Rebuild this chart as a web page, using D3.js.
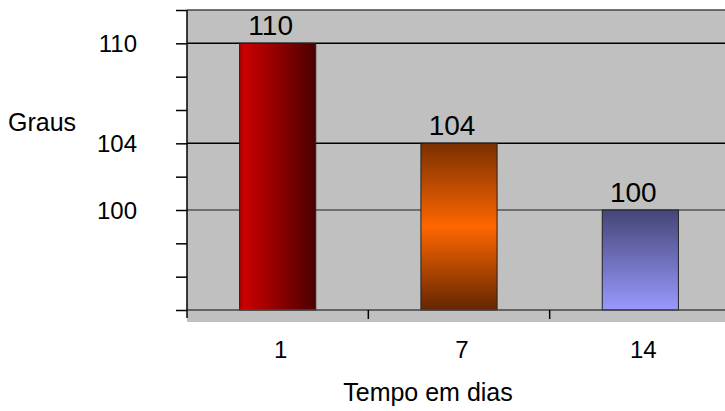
<!DOCTYPE html>
<html>
<head>
<meta charset="utf-8">
<script src="https://cdn.jsdelivr.net/npm/d3@7"></script>
<style>
  body { margin: 0; background: #fff; }
  text { font-family: "Liberation Sans", Arial, sans-serif; fill: #000; }
</style>
</head>
<body>
<div id="chart"></div>
<script>
// data
const days = ["1", "7", "14"]
const degrees = [110, 104, 100]
const labelledTicks = [100, 104, 110]
const gridValues = [100, 104, 110]

const width = 725, height = 411
const plot = { left: 187, top: 10, right: 731, bottom: 310, floor: 12 }

const svg = d3.select("#chart")
    .append("svg")
    .attr("width", width)
    .attr("height", height)

const defs = svg.append("defs")

// bar fills, one gradient per bar
const g1 = defs.append("linearGradient").attr("id", "grad0")
    .attr("x1", "0%").attr("x2", "100%").attr("y1", "0%").attr("y2", "0%")
g1.append("stop").attr("offset", "0%").attr("stop-color", "#a80000")
g1.append("stop").attr("offset", "6%").attr("stop-color", "#cc0000")
g1.append("stop").attr("offset", "100%").attr("stop-color", "#4a0000")

const g2 = defs.append("linearGradient").attr("id", "grad1")
    .attr("x1", "0%").attr("x2", "0%").attr("y1", "0%").attr("y2", "100%")
g2.append("stop").attr("offset", "0%").attr("stop-color", "#7a3000")
g2.append("stop").attr("offset", "50%").attr("stop-color", "#ff6600")
g2.append("stop").attr("offset", "100%").attr("stop-color", "#642600")

const g3 = defs.append("linearGradient").attr("id", "grad2")
    .attr("x1", "0%").attr("x2", "0%").attr("y1", "0%").attr("y2", "100%")
g3.append("stop").attr("offset", "0%").attr("stop-color", "#454578")
g3.append("stop").attr("offset", "100%").attr("stop-color", "#9999ff")

const x = d3.scaleBand()
    .domain(days)
    .range([plot.left, plot.right])
    .paddingInner(0.58)
    .paddingOuter(0.29)

const y = d3.scaleLinear()
    .domain([94, 112])
    .range([plot.bottom, plot.top])

// plot area
svg.append("rect")
    .attr("x", plot.left)
    .attr("y", plot.top)
    .attr("width", plot.right - plot.left)
    .attr("height", plot.bottom - plot.top + plot.floor)
    .attr("fill", "#c0c0c0")

svg.append("line")
    .attr("x1", plot.left).attr("x2", plot.right)
    .attr("y1", plot.top).attr("y2", plot.top)
    .attr("stroke", "#444")
    .attr("stroke-width", 1.5)

svg.append("g")
    .selectAll("line")
    .data(gridValues)
    .enter()
    .append("line")
    .attr("x1", plot.left).attr("x2", plot.right)
    .attr("y1", d => y(d)).attr("y2", d => y(d))
    .attr("stroke", d => d == 100 ? "#555" : "#000")
    .attr("stroke-width", 1.5)

// bars
svg.append("g")
    .selectAll("rect")
    .data(degrees)
    .enter()
    .append("rect")
    .attr("x", (d, i) => x(days[i]))
    .attr("y", d => y(d))
    .attr("width", x.bandwidth())
    .attr("height", d => plot.bottom - y(d))
    .attr("fill", (d, i) => `url(#grad${i})`)
    .attr("stroke", "#222")
    .attr("stroke-width", 1)

// baseline
svg.append("line")
    .attr("x1", plot.left).attr("x2", plot.right)
    .attr("y1", plot.bottom).attr("y2", plot.bottom)
    .attr("stroke", "#444")
    .attr("stroke-width", 1.5)

// value labels
svg.append("g")
    .selectAll("text")
    .data(degrees)
    .enter()
    .append("text")
    .attr("x", (d, i) => x(days[i]) + x.bandwidth() / 2 - 7)
    .attr("y", d => y(d) - 8)
    .attr("text-anchor", "middle")
    .attr("font-size", "28px")
    .text(d => d)

// y axis: ticks every 2, labels only at some
const yAxis = d3.axisLeft(y)
    .tickValues(d3.range(94, 113, 2))
    .tickSize(11)
    .tickFormat(d => labelledTicks.includes(d) ? d : "")

const ya = svg.append("g")
    .attr("transform", `translate(${plot.left},0)`)
    .call(yAxis)
ya.select(".domain").remove()
ya.selectAll(".tick line").attr("stroke", "#000").attr("stroke-width", 1.5)
ya.selectAll(".tick text")
    .attr("x", -50)
    .attr("dy", "0.36em")
    .attr("font-size", "24px")
    .attr("font-family", "Liberation Sans, Arial, sans-serif")
    .attr("fill", "#000")

svg.append("line")
    .attr("x1", plot.left).attr("x2", plot.left)
    .attr("y1", plot.top).attr("y2", plot.bottom + 8)
    .attr("stroke", "#000")
    .attr("stroke-width", 1.5)

// x axis: ticks between categories
const xTicks = days.slice(1).map(d => x(d) - x.step() * x.paddingInner() / 2)
svg.append("g")
    .selectAll("line")
    .data(xTicks)
    .enter()
    .append("line")
    .attr("x1", d => d).attr("x2", d => d)
    .attr("y1", plot.bottom).attr("y2", plot.bottom + 9)
    .attr("stroke", "#000")
    .attr("stroke-width", 1.5)

svg.append("g")
    .selectAll("text")
    .data(days)
    .enter()
    .append("text")
    .attr("x", d => x(d) + x.bandwidth() / 2 + 3)
    .attr("y", 358)
    .attr("text-anchor", "middle")
    .attr("font-size", "24px")
    .text(d => d)

// axis titles
svg.append("text")
    .attr("x", 8)
    .attr("y", 131)
    .attr("font-size", "25px")
    .text("Graus")

svg.append("text")
    .attr("x", 428)
    .attr("y", 401)
    .attr("text-anchor", "middle")
    .attr("font-size", "25px")
    .text("Tempo em dias")
</script>
</body>
</html>
